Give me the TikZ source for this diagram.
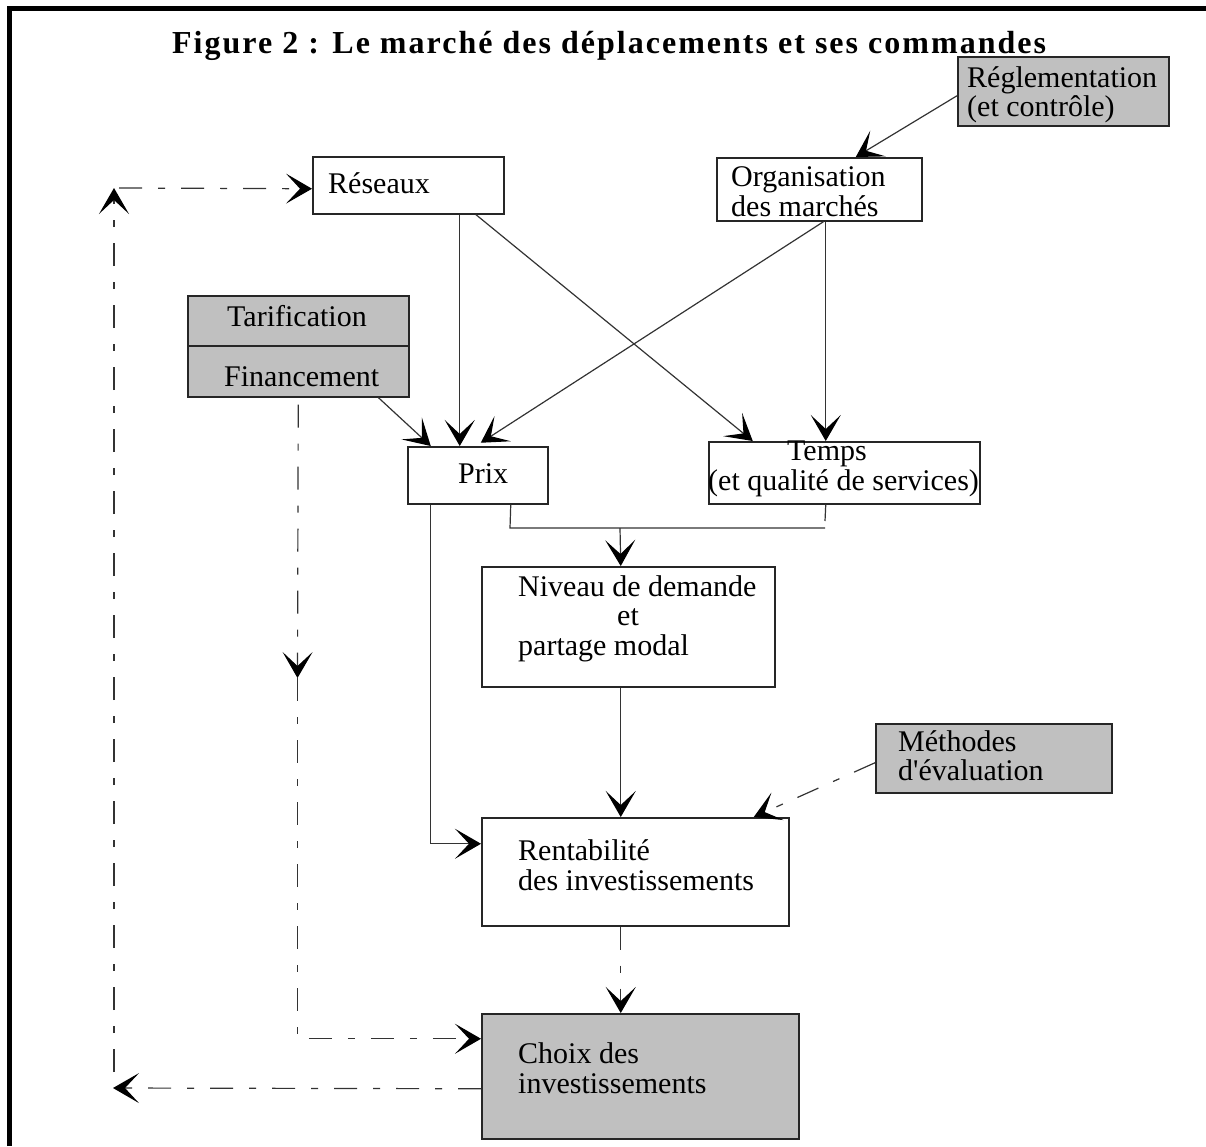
\documentclass[tikz,border=0pt]{standalone}
\usepackage{fontspec}
\setmainfont{Liberation Serif}
\newfontfamily\rawfont{Liberation Serif}
\newfontfamily\titlefont{Liberation Serif}[LetterSpace=6.3]
\usetikzlibrary{arrows.meta}
\definecolor{boxgray}{HTML}{C0C0C0}
\begin{document}
\begin{tikzpicture}[x=1pt,y=-1pt,
  >={Stealth[length=26pt,width=30pt,inset=14pt,color=black]},
  box/.style={draw=black!85,line width=1.5pt,inner sep=0pt,anchor=north west},
  graybox/.style={box,fill=boxgray},
  lbl/.style={anchor=base west,inner sep=0pt,font=\rawfont\fontsize{30}{30}\selectfont},
  conn/.style={draw=black!80,line width=1.2pt},
  dd/.style={conn,dash pattern=on 23pt off 16pt on 7pt off 16pt},
]
\useasboundingbox (0,0) rectangle (1206,1146);
% frame
\draw[line width=5pt] (9,1146) -- (9,8) -- (1206,8);
% title
\node[anchor=base west,inner sep=0pt,font=\titlefont\bfseries\fontsize{32}{32}\selectfont] (title) at (172,53) {Figure 2 : Le marché des déplacements et ses commandes};
% boxes
\node[box,minimum width=191pt,minimum height=57pt] (reseaux) at (312,156) {};
\node[box,minimum width=205pt,minimum height=63pt] (org) at (716,157) {};
\node[graybox,minimum width=211pt,minimum height=69pt] (regl) at (957,56) {};
\node[graybox,minimum width=221pt,minimum height=101pt] (tarif) at (187,295) {};
\node[box,minimum width=140pt,minimum height=57pt] (prix) at (407,446) {};
\node[box,minimum width=271pt,minimum height=62pt] (temps) at (708,441) {};
\node[box,minimum width=293pt,minimum height=120pt] (niveau) at (481,566) {};
\node[graybox,minimum width=236pt,minimum height=69pt] (meth) at (875,723) {};
\node[box,minimum width=307pt,minimum height=108pt] (rent) at (481,817) {};
\node[graybox,minimum width=317pt,minimum height=125pt] (choix) at (481,1013) {};
\draw[draw=black!85,line width=1.5pt] ([yshift=0.5pt]tarif.west) -- ([yshift=0.5pt]tarif.east);
% labels
\node[lbl] (tReseaux) at (328,193) {Réseaux};
\node[lbl] (tOrg1) at (731,186) {Organisation};
\node[lbl] (tOrg2) at (731,216) {des marchés};
\node[lbl] (tRegl1) at (967,87) {Réglementation};
\node[lbl] (tRegl2) at (967,116) {(et contrôle)};
\node[lbl] (tTarif) at (227,326) {Tarification};
\node[lbl] (tFin) at (224,386) {Financement};
\node[lbl] (tPrix) at (458,483) {Prix};
\node[lbl] (tTemps1) at (787,460) {Temps};
\node[lbl] (tTemps2) at (708,490) {(et qualité de services)};
\node[lbl] (tNiv1) at (518,596) {Niveau de demande};
\node[lbl] (tNiv2) at (617,625) {et};
\node[lbl] (tNiv3) at (518,655) {partage modal};
\node[lbl] (tMeth1) at (898,751) {Méthodes};
\node[lbl] (tMeth2) at (898,780) {d'évaluation};
\node[lbl] (tRent1) at (518,860) {Rentabilité};
\node[lbl] (tRent2) at (518,890) {des investissements};
\node[lbl] (tChoix1) at (518,1063) {Choix des};
\node[lbl] (tChoix2) at (518,1093) {investissements};
% connectors
\draw[conn,->] ([yshift=-4.5pt]regl.west) -- ([xshift=36.5pt]org.north);
\draw[conn,->] ([xshift=51.5pt]reseaux.south) -- ([xshift=-18pt]prix.north);
\draw[conn,->] ([xshift=67.5pt]reseaux.south) -- ([xshift=-91.5pt]temps.north);
\draw[conn,->,shorten >=6pt] ([xshift=4.5pt]org.south) -- ([xshift=-2pt]prix.north);
\draw[conn,->] ([xshift=6.5pt]org.south) -- ([xshift=-18.5pt]temps.north);
\draw[conn,->] ([xshift=80pt]tarif.south) -- ([xshift=-47pt]prix.north);
\coordinate (jl) at (510,528);
\coordinate (jr) at (825,528);
\coordinate (jm) at (620,528);
\coordinate (jt) at (825,521);
\draw[conn] ([xshift=33pt]prix.south) -- (jl) -- (jr);
\draw[conn] ([xshift=-18.5pt]temps.south) -- (jt);
\draw[conn,->] (jm) -- ([xshift=-7.5pt]niveau.north);
\draw[conn,->] ([xshift=-7.5pt]niveau.south) -- ([xshift=-14.5pt]rent.north);
\draw[conn,->] ([xshift=-47pt]prix.south) |- ([yshift=28pt]rent.west);
\draw[dd,->] ([yshift=-4.5pt]meth.west) -- ([xshift=118.5pt]rent.north);
\draw[dd,->] ([xshift=-14.5pt]rent.south) -- ([xshift=-19.5pt]choix.north);
\coordinate (fmid) at (297.5,678);
\draw[dd,->,shorten <=7pt] (tarif.south) -- (fmid);
\draw[dd,->] (fmid) |- ([yshift=37.5pt]choix.west);
\coordinate (lb) at (113,1088);
\coordinate (lv) at (114,1072);
\coordinate (lt) at (114,188);
\coordinate (tl) at (119,188);
\draw[dd,->] ([yshift=-12.5pt]choix.west) -- (lb);
\draw[dd,->] (lv) -- (lt);
\draw[dd,->] (tl) -- ([yshift=-3.5pt]reseaux.west);
\end{tikzpicture}
\end{document}
